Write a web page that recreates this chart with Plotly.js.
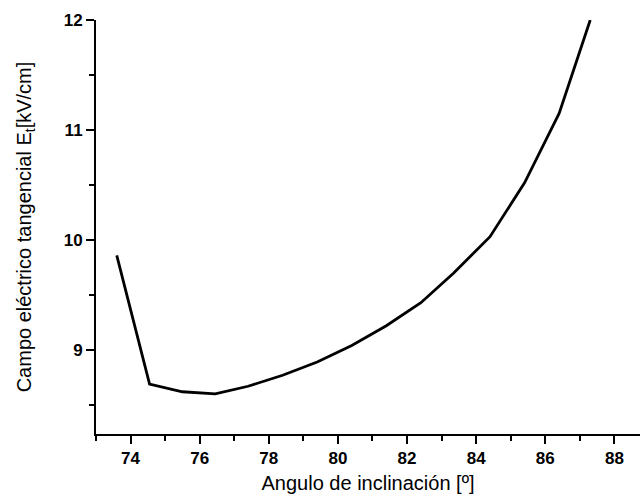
<!DOCTYPE html>
<html>
<head>
<meta charset="utf-8">
<script src="https://cdn.plot.ly/plotly-3.0.1.min.js"></script>
<style>html,body{margin:0;padding:0;background:#fff;}#chart{width:640px;height:496px;}</style>
</head>
<body>
<div id="chart"></div>
<script>
const angle = [73.6, 74.55, 75.5, 76.45, 77.4, 78.4, 79.4, 80.4, 81.4, 82.4, 83.35, 84.4, 85.4, 86.4, 87.3];
const field = [9.86, 8.69, 8.62, 8.60, 8.67, 8.77, 8.89, 9.04, 9.22, 9.43, 9.70, 10.03, 10.52, 11.15, 12.0];
const xTickVals = [74, 76, 78, 80, 82, 84, 86, 88];
const xTickText = ['74', '76', '78', '80', '82', '84', '86', '88'];
const yTickVals = [9, 10, 11, 12];
const yTickText = ['9', '10', '11', '12'];

const fontFam = 'Liberation Sans, Arial, sans-serif';

Plotly.newPlot('chart', [{
  x: angle,
  y: field,
  type: 'scatter',
  mode: 'lines',
  line: {color: '#000', width: 2.8},
  hoverinfo: 'skip'
}], {
  width: 640,
  height: 496,
  margin: {l: 96, r: 0, t: 20, b: 62},
  paper_bgcolor: '#fff',
  plot_bgcolor: '#fff',
  showlegend: false,
  xaxis: {
    range: [73, 88.74],
    tickvals: xTickVals,
    ticktext: xTickText.map(t => '<b>' + t + '</b>'),
    ticks: 'outside',
    ticklen: 8,
    tickwidth: 2,
    tickcolor: '#000',
    showline: true,
    linecolor: '#000',
    linewidth: 2,
    showgrid: false,
    zeroline: false,
    tickfont: {family: fontFam, size: 17, color: '#000', weight: 'bold'},
    minor: {dtick: 1, tick0: 73, ticks: 'outside', ticklen: 5, tickwidth: 2, tickcolor: '#000', showgrid: false},
    title: {text: 'Angulo de inclinación [º]', font: {family: fontFam, size: 20, color: '#000'}, standoff: 9},
    automargin: false
  },
  yaxis: {
    range: [8.236, 12],
    tickvals: yTickVals,
    ticktext: yTickText.map(t => '<b>' + t + '</b>'),
    ticks: 'outside',
    ticklen: 8,
    tickwidth: 2,
    tickcolor: '#000',
    showline: true,
    linecolor: '#000',
    linewidth: 2,
    showgrid: false,
    zeroline: false,
    tickfont: {family: fontFam, size: 17, color: '#000', weight: 'bold'},
    minor: {dtick: 0.5, tick0: 8.5, ticks: 'outside', ticklen: 5, tickwidth: 2, tickcolor: '#000', showgrid: false},
    title: {text: 'Campo eléctrico tangencial E<sub>t</sub>[kV/cm]', font: {family: fontFam, size: 20, color: '#000'}, standoff: 27},
    automargin: false
  }
}, {staticPlot: true, displayModeBar: false});
</script>
</body>
</html>
